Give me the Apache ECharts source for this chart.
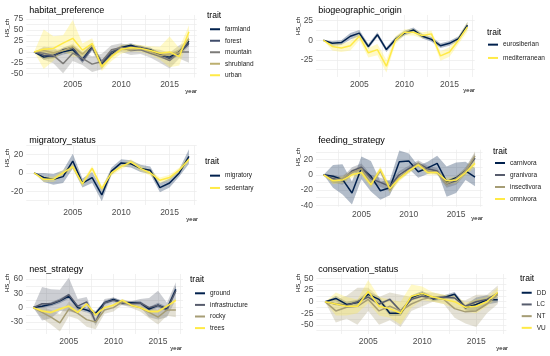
<!DOCTYPE html>
<html><head><meta charset="utf-8">
<script src="https://cdn.jsdelivr.net/npm/echarts@6/dist/echarts.min.js"></script>
<style>html,body{margin:0;padding:0;background:#fff}#c{width:550px;height:356px}</style>
</head><body><div id="c"></div>
<script>
// ---------- data ----------
const years = [2001,2002,2003,2004,2005,2006,2007,2008,2009,2010,2011,2012,2013,2014,2015,2016,2017];
const xTicks = [2005, 2010, 2015];

// habitat_preference
const habitatTicks = [-50,-25,0,25,50,75];
const farmland     = [0,-12,-8,0,5,-18,12,-27,-5,10,15,8,5,-8,-12,0,25];
const farmlandCI   = [0,6,6,6,7,7,8,8,6,5,5,5,5,6,7,6,8];
const forest       = [0,-8,-10,5,10,-20,10,-25,0,8,12,10,3,-5,-15,-3,20];
const forestCI     = [0,5,5,5,6,6,7,7,5,4,4,4,4,5,6,5,7];
const mountain     = [0,-3,-8,-27,-3,-15,-28,-22,5,10,3,5,-3,-10,-20,0,0];
const mountainCI   = [0,15,18,22,18,15,18,18,10,10,10,10,10,15,18,15,25];
const shrubland    = [0,3,-2,3,12,-5,15,-32,-8,8,5,8,0,-8,-5,-2,30];
const shrublandCI  = [0,6,6,6,7,6,7,8,6,5,5,5,5,6,6,6,8];
const urban        = [0,6,8,20,31,4,19,-34,-11,6,10,8,3,-3,0,-11,46];
const urbanCI      = [0,45,28,18,42,15,12,10,10,10,8,8,10,15,35,20,15];

// biogeographic_origin
const bioTicks = [-25,0,25];
const eurosiberian    = [0,-4,-3,5,9,-8,7,-12,1,9,13,5,1,-7,-4,2,19];
const eurosiberianCI  = [0,3,3,4,4,3,3,3,3,3,3,3,3,3,3,3,4];
const mediterranean   = [0,-8,-10,-7,5,-16,-12,-33,0,10,10,6,8,-20,-15,0,17];
const mediterraneanCI = [0,5,5,6,5,6,7,8,5,4,4,4,4,6,6,5,6];

// migratory_status
const migTicks = [-20,0,20];
const migratory   = [0,-5,-7,-4,13,-11,-5,-24,2,11,10,5,3,-16,-11,0,18];
const migratoryCI = [0,5,6,7,8,5,6,7,4,4,4,4,4,5,5,4,8];
const sedentary   = [0,-7,-7,0,7,-12,5,-17,0,7,12,5,0,-8,-5,3,15];
const sedentaryCI = [0,3,3,3,3,3,3,3,3,3,3,3,3,3,3,3,3];

// feeding_strategy
const feedTicks = [-40,-20,0,20];
const carnivora     = [0,-2,-6,-24,9,-2,-21,-17,17,18,4,9,15,-9,-4,5,-3];
const carnivoraCI   = [0,15,20,15,15,20,12,10,15,10,8,8,10,20,20,12,12];
const granivora     = [0,-5,-8,5,10,-5,-10,-15,0,8,15,8,5,-12,-8,5,22];
const granivoraCI   = [0,5,5,5,5,5,6,6,5,4,4,4,4,5,5,5,7];
const insectivora   = [0,-8,-5,3,8,-12,5,-20,-3,5,15,5,3,-12,-5,5,25];
const insectivoraCI = [0,4,4,4,4,4,4,5,4,3,3,3,3,4,4,4,6];
const omnivora      = [0,-8,-7,0,3,-13,7,-18,-5,5,13,3,3,-8,-7,3,15];
const omnivoraCI    = [0,4,4,4,4,4,4,5,4,3,3,3,3,4,4,4,5];

// nest_strategy
const nestTicks = [-30,0,30,60];
const ground           = [0,3,7,14,24,0,-5,-12,10,17,10,10,10,-3,5,-3,38];
const groundCI         = [0,4,4,5,5,5,5,5,4,4,4,4,4,4,5,5,8];
const infrastructure   = [0,8,8,15,27,3,12,-30,10,15,10,8,10,0,5,-5,35];
const infrastructureCI = [0,35,30,22,35,15,10,8,8,6,5,5,8,20,30,15,18];
const rocky            = [0,-10,-20,-32,-3,-12,-25,-30,-5,0,12,5,0,-10,-20,-5,-5];
const rockyCI          = [0,12,15,18,15,12,15,15,8,8,6,6,8,12,15,12,15];
const trees            = [0,-7,-10,-3,3,-10,8,-15,0,5,15,5,0,-8,-8,3,15];
const treesCI          = [0,3,3,3,3,3,3,4,3,3,3,3,3,3,3,3,4];

// conservation_status
const consTicks = [-50,-25,0,25,50];
const DD   = [0,7,-6,-2,16,5,-25,-25,9,18,6,9,16,-13,-6,4,4];
const DDCI = [0,6,6,6,6,6,6,6,5,5,5,5,5,6,15,10,6];
const LC   = [0,-5,-8,0,10,-5,5,-20,5,12,8,10,8,-10,0,5,18];
const LCCI = [0,3,3,3,3,3,3,3,3,3,3,3,3,3,3,3,3];
const NT   = [0,-20,-12,-10,5,-20,-10,-20,-5,5,10,5,-15,-22,-20,-5,15];
const NTCI = [0,25,25,40,25,30,30,35,15,15,10,10,20,25,35,20,20];
const VU   = [0,-5,-10,-10,22,-10,-15,-25,12,18,10,5,0,-12,-10,0,20];
const VUCI = [0,25,20,15,25,20,20,25,25,15,10,10,15,10,15,10,10];

// ---------- styling / layout ----------
const FONT = '"Liberation Sans", Arial, sans-serif';
const C5 = ['#00204D','#414D6B','#7C7B78','#BCAF6F','#FFEA46'];
const C4 = ['#00204D','#575C6D','#A69D75','#FFEA46'];
const C2 = ['#00204D','#FFEA46'];

const panels = [
  {title:'habitat_preference', ticks:habitatTicks, colors:C5,
   traits:[['farmland',farmland,farmlandCI],['forest',forest,forestCI],['mountain',mountain,mountainCI],['shrubland',shrubland,shrublandCI],['urban',urban,urbanCI]],
   grid:{left:26.3,top:15,width:170.4,height:62.5}, ymin:-58.6, ymax:84.4,
   titlePos:[29.3,10.5], leg:{left:210,top:23.5,lh:11.5}, traitPos:[207,16], yearPos:[197,91], hsPos:[7.5,19]},
  {title:'biogeographic_origin', ticks:bioTicks, colors:C2,
   traits:[['eurosiberian',eurosiberian,eurosiberianCI],['mediterranean',mediterranean,mediterraneanCI]],
   grid:{left:316.1,top:15,width:158.6,height:62}, ymin:-46.8, ymax:32,
   titlePos:[318.3,11], leg:{left:488,top:38,lh:13.3}, traitPos:[487,33], yearPos:[475,90], hsPos:[298.5,17]},
  {title:'migratory_status', ticks:migTicks, colors:C2,
   traits:[['migratory',migratory,migratoryCI],['sedentary',sedentary,sedentaryCI]],
   grid:{left:26.3,top:145.5,width:170.4,height:59.5}, ymin:-35, ymax:30,
   titlePos:[29.3,140.5], leg:{left:210,top:169.5,lh:12.3}, traitPos:[205,162], yearPos:[198,219], hsPos:[7.5,149]},
  {title:'feeding_strategy', ticks:feedTicks, colors:C4,
   traits:[['carnivora',carnivora,carnivoraCI],['granivora',granivora,granivoraCI],['insectivora',insectivora,insectivoraCI],['omnivora',omnivora,omnivoraCI]],
   grid:{left:316,top:149.7,width:166.6,height:57}, ymin:-42, ymax:33,
   titlePos:[318.3,140.5], leg:{left:495,top:157,lh:12}, traitPos:[493,151.3], yearPos:[483,218], hsPos:[298.5,148]},
  {title:'nest_strategy', ticks:nestTicks, colors:C4,
   traits:[['ground',ground,groundCI],['infrastructure',infrastructure,infrastructureCI],['rocky',rocky,rockyCI],['trees',trees,treesCI]],
   grid:{left:26,top:274,width:157,height:60}, ymin:-55, ymax:70,
   titlePos:[29.3,269.3], leg:{left:195,top:287.5,lh:11.6}, traitPos:[190,279.7], yearPos:[182,348.5], hsPos:[7.5,274]},
  {title:'conservation_status', ticks:consTicks, colors:C4,
   traits:[['DD',DD,DDCI],['LC',LC,LCCI],['NT',NT,NTCI],['VU',VU,VUCI]],
   grid:{left:316.4,top:274,width:190,height:60}, ymin:-70, ymax:60,
   titlePos:[318.3,269.3], leg:{left:521.7,top:286.9,lh:11.7}, traitPos:[520,279], yearPos:[508,348.5], hsPos:[298.5,274]}
];

function halfSteps(ticks, lo, hi) {
  const step = (ticks[1] - ticks[0]) / 2;
  const out = [];
  for (let v = ticks[0] - 4 * step; v <= hi + 1e-9; v += step) if (v >= lo - 1e-9) out.push(v);
  return out;
}
function rgba(hex, a) {
  const n = parseInt(hex.slice(1), 16);
  return 'rgba(' + (n >> 16) + ',' + ((n >> 8) & 255) + ',' + (n & 255) + ',' + a + ')';
}

const grids = [], xAxes = [], yAxes = [], series = [], legends = [], graphics = [];
const xGrid = halfSteps(xTicks, 2000.2, 2017.8);
const labelStyle = {color:'#4D4D4D', fontSize:8.5, fontFamily:FONT, formatter: v => String(v)};
const splitStyle = {show:true, lineStyle:{color:'#EBEBEB', width:0.7}};

panels.forEach((p, i) => {
  grids.push(Object.assign({containLabel:false}, p.grid));
  xAxes.push({gridIndex:i, type:'value', min:2000.2, max:2017.8,
    axisLine:{show:false}, axisTick:{show:false, customValues:xGrid},
    axisLabel:Object.assign({customValues:xTicks, margin:3}, labelStyle),
    splitLine:splitStyle, minorSplitLine:{show:false}});
  yAxes.push({gridIndex:i, type:'value', min:p.ymin, max:p.ymax,
    axisLine:{show:false}, axisTick:{show:false, customValues:halfSteps(p.ticks, p.ymin, p.ymax)},
    axisLabel:Object.assign({customValues:p.ticks, margin:3}, labelStyle),
    splitLine:splitStyle});
  // ribbons first (underneath)
  p.traits.forEach((t, j) => {
    const name = t[0], mean = t[1], ci = t[2], col = p.colors[j];
    const lo = mean.map((v, k) => v - ci[k]);
    const hi = mean.map((v, k) => v + ci[k]);
    series.push({type:'custom', name:name + ' ribbon', xAxisIndex:i, yAxisIndex:i, silent:true, z:1,
      animation:false,
      data: years.map((y, k) => [y, lo[k], hi[k]]),
      encode:{x:0, y:[1,2]},
      renderItem: function (params, api) {
        if (params.dataIndexInside !== 0) return null;
        const top = [], bot = [];
        for (let k = 0; k < years.length; k++) {
          top.push(api.coord([years[k], hi[k]]));
          bot.push(api.coord([years[k], lo[k]]));
        }
        return {type:'polygon', shape:{points: top.concat(bot.reverse())},
                style:{fill: rgba(col, 0.3), stroke:'none'}};
      }});
  });
  p.traits.forEach((t, j) => {
    const col = p.colors[j];
    series.push({type:'line', name:t[0], xAxisIndex:i, yAxisIndex:i, z:3, animation:false,
      data: years.map((y, k) => [y, t[1][k]]), showSymbol:false, symbol:'none',
      lineStyle:{color:col, width:1.5}, itemStyle:{color:col}});
  });
  legends.push({data:p.traits.map(t => t[0]), orient:'vertical', left:p.leg.left, top:p.leg.top,
    padding:0, itemGap:0, itemWidth:10, itemHeight:2, icon:'rect', selectedMode:false,
    textStyle:{fontSize:6.5, color:'#1A1A1A', fontFamily:FONT, lineHeight:p.leg.lh}});
  graphics.push({type:'text', x:p.titlePos[0], y:p.titlePos[1],
    style:{text:p.title, fontSize:9, fontFamily:FONT, fill:'#000', align:'left', verticalAlign:'middle'}});
  graphics.push({type:'text', x:p.traitPos[0], y:p.traitPos[1],
    style:{text:'trait', fontSize:8.5, fontFamily:FONT, fill:'#000', align:'left', verticalAlign:'middle'}});
  graphics.push({type:'text', x:p.yearPos[0], y:p.yearPos[1],
    style:{text:'year', fontSize:6, fontFamily:FONT, fill:'#000', align:'right', verticalAlign:'middle'}});
  graphics.push({type:'text', x:p.hsPos[0], y:p.hsPos[1], rotation:Math.PI/2,
    style:{text:'HS_ch', fontSize:6, fontFamily:FONT, fill:'#000', align:'right', verticalAlign:'middle'}});
});

const chart = echarts.init(document.getElementById('c'), null, {renderer:'canvas'});
chart.setOption({
  backgroundColor:'#fff', animation:false,
  grid:grids, xAxis:xAxes, yAxis:yAxes, series:series, legend:legends, graphic:graphics
});
</script></body></html>
